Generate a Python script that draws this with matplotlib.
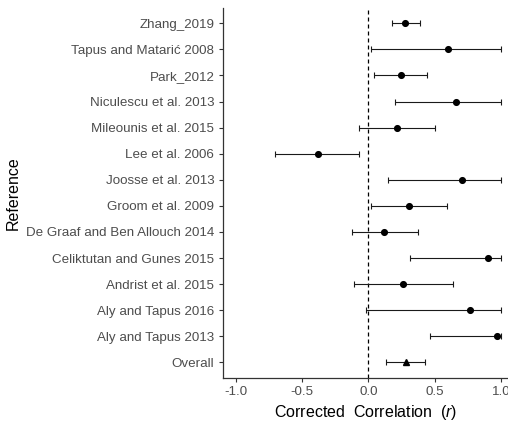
import matplotlib
matplotlib.use("Agg")
import matplotlib.pyplot as plt
import numpy as np

plt.rcParams['font.family'] = ['Liberation Sans', 'DejaVu Sans']
plt.rcParams['mathtext.fontset'] = 'custom'
plt.rcParams['mathtext.it'] = 'Liberation Sans:italic'
plt.rcParams['mathtext.rm'] = 'Liberation Sans'

# top to bottom
studies = ["Zhang_2019", "Tapus and Matarić 2008", "Park_2012", "Niculescu et al. 2013",
           "Mileounis et al. 2015", "Lee et al. 2006", "Joosse et al. 2013", "Groom et al. 2009",
           "De Graaf and Ben Allouch 2014", "Celiktutan and Gunes 2015", "Andrist et al. 2015",
           "Aly and Tapus 2016", "Aly and Tapus 2013", "Overall"]
r_est = [0.279, 0.60, 0.246, 0.658, 0.214, -0.381, 0.708, 0.304, 0.121, 0.904, 0.261, 0.766, 0.97, 0.282]
r_lo = [0.178, 0.023, 0.045, 0.204, -0.068, -0.703, 0.146, 0.018, -0.123, 0.312, -0.11, -0.02, 0.467, 0.136]
r_hi = [0.387, 1.0, 0.44, 1.0, 0.505, -0.068, 1.0, 0.595, 0.372, 1.0, 0.636, 1.0, 1.0, 0.43]
x_ticks = [-1.0, -0.5, 0.0, 0.5, 1.0]

fig = plt.figure(figsize=(5.08, 4.22), dpi=100)
ax = fig.add_axes([222.7/508, (422-378)/422, 1 - 222.7/508, (378-7.6)/422])

n = len(studies)
ypos = np.arange(n)[::-1]
est = np.array(r_est)
lo = np.array(r_lo)
hi = np.array(r_hi)

ax.axvline(0, color='black', lw=0.9, dashes=(3.2, 2.4), zorder=1)

for i in range(n):
    y = ypos[i]
    ax.errorbar([est[i]], [y], xerr=[[est[i]-lo[i]], [hi[i]-est[i]]], fmt='none',
                ecolor='#1a1a1a', elinewidth=0.8, capsize=2.2, capthick=0.8, zorder=2)
    marker = '^' if studies[i] == "Overall" else 'o'
    ax.plot([est[i]], [y], marker=marker, color='black', ms=4.1 if marker == 'o' else 4.5,
            ls='none', zorder=3)

ax.set_yticks(ypos)
ax.set_yticklabels(studies)
ax.set_ylim(-0.6, n - 1 + 0.6)
ax.set_xticks(x_ticks)
ax.set_xticklabels([f"{t:.1f}" for t in x_ticks])
ax.set_xlim(-1.098, (508-368.3)/132.7)

for s in ['top', 'right']:
    ax.spines[s].set_visible(False)
for s in ['left', 'bottom']:
    ax.spines[s].set_color('#333333')
    ax.spines[s].set_linewidth(0.9)

ax.tick_params(axis='both', colors='#333333', length=3, width=0.8, labelsize=9.6,
               labelcolor='#4D4D4D', pad=3)

ax.set_xlabel("Corrected  Correlation  ($\\it{r}$)", fontsize=11.5, color='black', labelpad=3)
ax.set_ylabel("Reference", fontsize=11.5, color='black', labelpad=4)

fig.savefig("out.png", dpi=100)
